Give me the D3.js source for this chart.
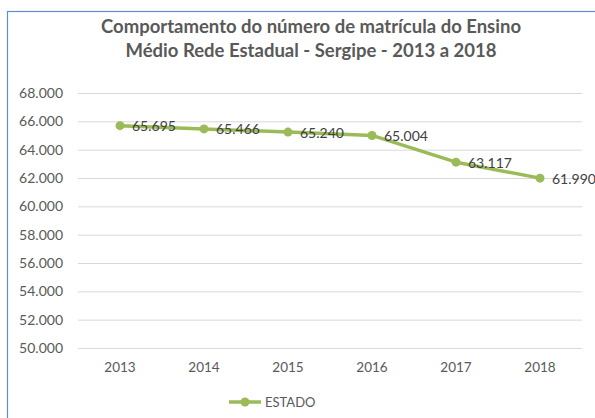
<!DOCTYPE html>
<html><head><meta charset="utf-8">
<script src="https://cdn.jsdelivr.net/npm/d3@7"></script>
<style>body{margin:0;background:#fff;} svg{display:block;font-family:Lato, "Open Sans", sans-serif;}</style>
</head><body>
<svg id="c" width="595" height="418"></svg>
<script>
const years = ["2013","2014","2015","2016","2017","2018"];
const estado = [65695, 65466, 65240, 65004, 63117, 61990];
const yTicks = [50000,52000,54000,56000,58000,60000,62000,64000,66000,68000];
const titleLines = ["Comportamento do número de matrícula do Ensino", "Médio Rede Estadual - Sergipe - 2013 a 2018"];
const seriesName = "ESTADO";

const svg = d3.select("#c");
const color = "#9BBB59";
const fmt = v => d3.format(",")(v).replace(/,/g, ".");
const fmtT = v => d3.format(",.0f")(v).replace(/,/g, ".");

// frame
svg.append("rect").attr("x",7.5).attr("y",11.5).attr("width",600).attr("height",420)
  .attr("fill","#fff").attr("stroke","#5B8FD0").attr("stroke-width",1.2);

const x = d3.scaleBand().domain(years).range([78,582]);
const y = d3.scaleLinear().domain([50000,68000]).range([348,93]);

// title
svg.append("g").selectAll("text").data(titleLines).join("text")
  .attr("x",311).attr("y",(d,i)=>33+i*24).attr("text-anchor","middle")
  .attr("font-size",18.5).attr("font-weight","bold").attr("fill","#595959").text(d=>d);

// gridlines
const yAxis = d3.axisLeft(y).tickValues(yTicks).tickSize(-(582-78)).tickFormat(fmtT).tickPadding(15);
const gy = svg.append("g").attr("transform","translate(78,0)").call(yAxis);
gy.select(".domain").remove();
gy.selectAll(".tick line").attr("stroke","#D9D9D9").attr("stroke-width",1);
gy.selectAll(".tick text").attr("font-size",14).attr("fill","#595959").attr("font-family","Lato, sans-serif");

const xAxis = d3.axisBottom(x).tickSize(0).tickPadding(14);
const gx = svg.append("g").attr("transform","translate(0,348)").call(xAxis);
gx.select(".domain").remove();
gx.selectAll(".tick text").attr("font-size",13.5).attr("fill","#595959").attr("font-family","Lato, sans-serif");

const cx = (d,i) => x(years[i]) + x.bandwidth()/2;
const line = d3.line().x((d,i)=>cx(d,i)).y(d=>y(d));
svg.append("path").datum(estado).attr("d",line).attr("fill","none")
  .attr("stroke",color).attr("stroke-width",3.5).attr("stroke-linejoin","round");
svg.append("g").selectAll("circle").data(estado).join("circle")
  .attr("cx",cx).attr("cy",d=>y(d)).attr("r",4.5).attr("fill",color);
svg.append("g").selectAll("text").data(estado).join("text")
  .attr("x",(d,i)=>cx(d,i)+12).attr("y",d=>y(d)+5.5)
  .attr("font-size",14).attr("fill","#404040").text(d=>fmt(d));

// legend
const lg = svg.append("g").attr("transform","translate(229,402)");
lg.append("line").attr("x1",0).attr("x2",32).attr("y1",0).attr("y2",0).attr("stroke",color).attr("stroke-width",3.5);
lg.append("circle").attr("cx",16).attr("cy",0).attr("r",4.5).attr("fill",color);
lg.append("text").attr("x",36).attr("y",5).attr("font-size",13).attr("fill","#595959").text(seriesName);
</script>
</body></html>
